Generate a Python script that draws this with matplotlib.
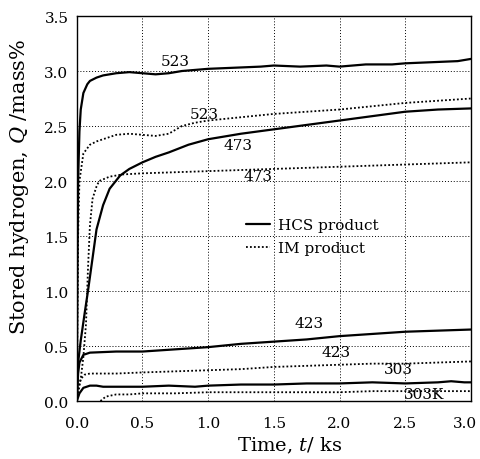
import matplotlib
matplotlib.use("Agg")
import matplotlib.pyplot as plt
from matplotlib.lines import Line2D
from matplotlib.transforms import ScaledTranslation

plt.rcParams['font.family'] = ['DejaVu Serif']
plt.rcParams['mathtext.fontset'] = 'dejavuserif'

# HCS product (solid)
t_hcs_523 = [0, 0.005, 0.01, 0.02, 0.03, 0.05, 0.08, 0.1, 0.15, 0.2, 0.3, 0.4, 0.5, 0.6, 0.7, 0.8, 1.0, 1.2, 1.4, 1.5, 1.7, 1.9, 2.0, 2.2, 2.4, 2.5, 2.7, 2.9, 3.0]
q_hcs_523 = [0, 1.2, 2.0, 2.45, 2.65, 2.8, 2.88, 2.91, 2.94, 2.96, 2.98, 2.99, 2.98, 2.97, 2.98, 3.0, 3.02, 3.03, 3.04, 3.05, 3.04, 3.05, 3.04, 3.06, 3.06, 3.07, 3.08, 3.09, 3.11]

t_hcs_473 = [0, 0.01, 0.03, 0.06, 0.085, 0.12, 0.15, 0.2, 0.25, 0.33, 0.4, 0.5, 0.6, 0.7, 0.85, 1.0, 1.25, 1.5, 1.75, 2.0, 2.25, 2.5, 2.75, 3.0]
q_hcs_473 = [0, 0.35, 0.55, 0.8, 1.0, 1.3, 1.56, 1.78, 1.93, 2.05, 2.11, 2.17, 2.22, 2.26, 2.33, 2.38, 2.43, 2.47, 2.51, 2.55, 2.59, 2.63, 2.65, 2.66]

t_hcs_423 = [0, 0.01, 0.02, 0.05, 0.1, 0.3, 0.5, 0.75, 1.0, 1.25, 1.5, 1.75, 2.0, 2.25, 2.5, 2.75, 3.0]
q_hcs_423 = [0, 0.25, 0.35, 0.42, 0.44, 0.45, 0.45, 0.47, 0.49, 0.52, 0.54, 0.56, 0.59, 0.61, 0.63, 0.64, 0.65]

t_hcs_303 = [0, 0.02, 0.05, 0.1, 0.15, 0.2, 0.3, 0.5, 0.7, 0.9, 1.0, 1.25, 1.5, 1.75, 2.0, 2.25, 2.5, 2.75, 2.85, 2.95, 3.0]
q_hcs_303 = [0, 0.07, 0.12, 0.14, 0.14, 0.13, 0.13, 0.13, 0.14, 0.13, 0.14, 0.15, 0.15, 0.16, 0.16, 0.17, 0.16, 0.17, 0.18, 0.17, 0.17]

# IM product (dotted)
t_im_523 = [0, 0.01, 0.02, 0.05, 0.1, 0.15, 0.2, 0.3, 0.4, 0.5, 0.6, 0.7, 0.8, 0.9, 1.0, 1.25, 1.5, 1.75, 2.0, 2.25, 2.5, 2.75, 3.0]
q_im_523 = [0, 1.5, 2.0, 2.25, 2.33, 2.36, 2.38, 2.42, 2.43, 2.42, 2.41, 2.43, 2.5, 2.53, 2.55, 2.58, 2.61, 2.63, 2.65, 2.68, 2.71, 2.73, 2.75]

t_im_473 = [0, 0.03, 0.05, 0.07, 0.085, 0.1, 0.12, 0.15, 0.17, 0.25, 0.35, 0.5, 0.75, 1.0, 1.25, 1.5, 1.75, 2.0, 2.25, 2.5, 2.75, 3.0]
q_im_473 = [0, 0.2, 0.4, 0.7, 1.2, 1.6, 1.84, 1.95, 2.0, 2.04, 2.06, 2.07, 2.08, 2.09, 2.1, 2.11, 2.12, 2.13, 2.14, 2.15, 2.16, 2.17]

t_im_423 = [0, 0.01, 0.03, 0.06, 0.1, 0.3, 0.5, 0.75, 1.0, 1.25, 1.5, 1.75, 2.0, 2.25, 2.5, 2.75, 3.0]
q_im_423 = [0, 0.12, 0.2, 0.24, 0.25, 0.25, 0.26, 0.27, 0.28, 0.29, 0.31, 0.32, 0.33, 0.34, 0.34, 0.35, 0.36]

t_im_303 = [0.18, 0.22, 0.3, 0.4, 0.5, 0.75, 1.0, 1.25, 1.5, 1.75, 2.0, 2.25, 2.5, 2.75, 3.0]
q_im_303 = [0.0, 0.04, 0.06, 0.06, 0.07, 0.07, 0.08, 0.08, 0.08, 0.08, 0.08, 0.09, 0.09, 0.09, 0.09]

labels = ["523", "523", "473", "473", "423", "423", "303", "303K"]
label_t = [0.75, 0.97, 1.23, 1.38, 1.77, 1.97, 2.45, 2.64]
label_q = [3.09, 2.61, 2.33, 2.05, 0.71, 0.45, 0.29, 0.06]

x_ticks = [0.0, 0.5, 1.0, 1.5, 2.0, 2.5, 3.0]
y_ticks = [0.0, 0.5, 1.0, 1.5, 2.0, 2.5, 3.0, 3.5]
legend_labels = ["HCS product", "IM product"]

fig = plt.figure(figsize=(4.8, 4.6), dpi=100)
ax = fig.add_axes([0.160, 0.126, 0.821, 0.837])

solid_kw = dict(color='black', lw=1.6, solid_capstyle='round')
dot_kw = dict(color='black', lw=1.3, linestyle=(0, (1, 1.2)))

ax.plot(t_hcs_523, q_hcs_523, **solid_kw)
ax.plot(t_hcs_473, q_hcs_473, **solid_kw)
ax.plot(t_hcs_423, q_hcs_423, **solid_kw)
ax.plot(t_hcs_303, q_hcs_303, **solid_kw)
ax.plot(t_im_523, q_im_523, **dot_kw)
ax.plot(t_im_473, q_im_473, **dot_kw)
ax.plot(t_im_423, q_im_423, **dot_kw)
ax.plot(t_im_303, q_im_303, **dot_kw)

for s, tx, qy in zip(labels, label_t, label_q):
    ax.text(tx, qy, s, fontsize=11, ha='center', va='center')

ax.set_xlim(0, 3.0)
ax.set_ylim(0, 3.5)
ax.set_xticks(x_ticks)
ax.set_yticks(y_ticks)
ax.set_xticklabels([f"{v:.1f}" for v in x_ticks], fontsize=11)
ax.set_yticklabels([f"{v:.1f}" for v in y_ticks], fontsize=11)
ax.tick_params(length=0, pad=6)
ax.tick_params(axis='x', pad=11)
ax.grid(True, color='black', linestyle=(0, (1, 2)), lw=0.7)
for sp in ax.spines.values():
    sp.set_linewidth(1.0)

# nudge last x tick label so it stays inside the figure
last = ax.get_xticklabels()[-1]
last.set_transform(last.get_transform() + ScaledTranslation(-6 / 100, 0, fig.dpi_scale_trans))

ax.set_xlabel(r"Time, $\mathit{t}$/ ks", fontsize=14)
ax.set_ylabel(r"Stored hydrogen, $\mathit{Q}$ /mass%", fontsize=15)
ax.xaxis.set_label_coords(0.54, -0.088)
ax.yaxis.set_label_coords(-0.115, 0.56)

handles = [Line2D([], [], **solid_kw), Line2D([], [], **dot_kw)]
ax.legend(handles, legend_labels, loc='upper left',
          bbox_to_anchor=(0.41, 0.495), frameon=False, fontsize=11,
          handlelength=1.6, handletextpad=0.5, labelspacing=0.6, borderpad=0)

fig.savefig("out.png", dpi=100)
